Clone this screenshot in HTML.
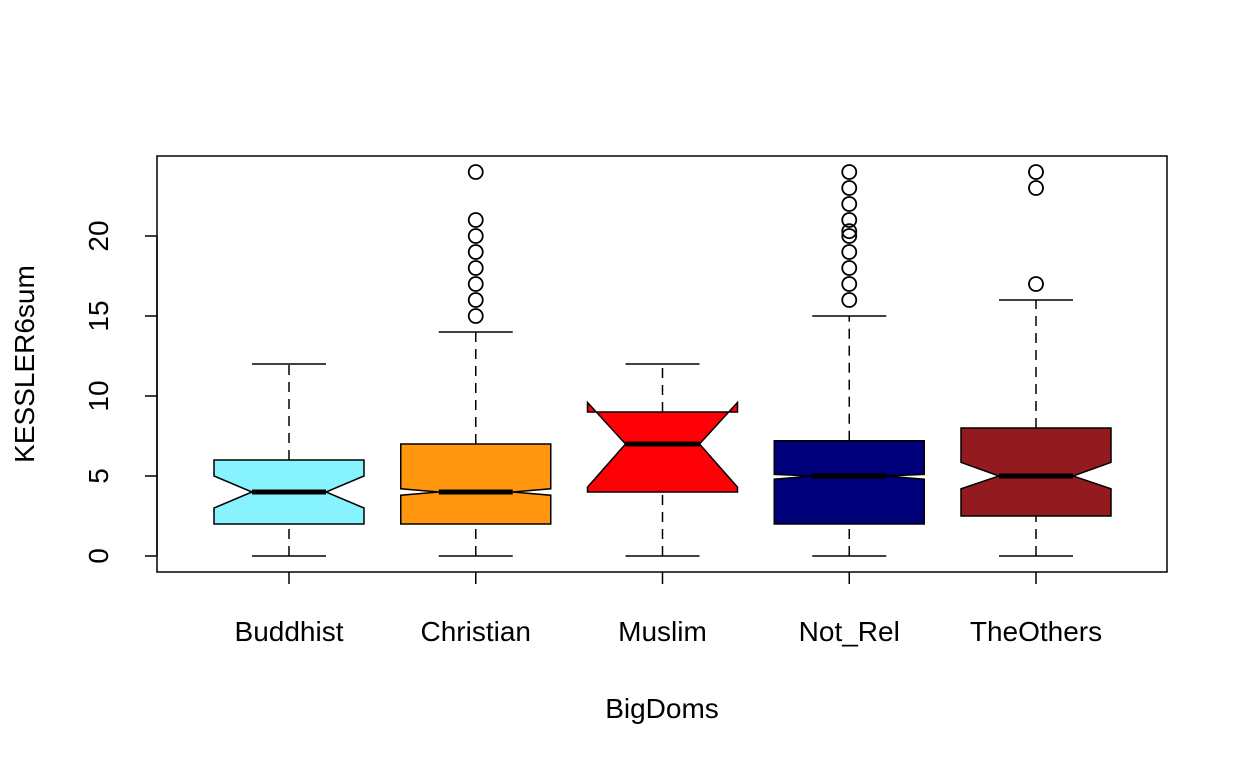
<!DOCTYPE html>
<html><head><meta charset="utf-8"><style>
body{margin:0;background:#fff}
svg text{font-family:"Liberation Sans",Arial,sans-serif;font-size:28px;fill:#000}
</style></head><body>
<svg id="chart" width="1248" height="768" xmlns="http://www.w3.org/2000/svg">
<rect x="157" y="156" width="1010" height="416" fill="none" stroke="#000" stroke-width="1.5"/>
<g id="marks"></g>
<text x="662" y="718" text-anchor="middle">BigDoms</text>
<text transform="translate(34,364) rotate(-90)" text-anchor="middle">KESSLER6sum</text>
</svg>
<script>
const categories=["Buddhist","Christian","Muslim","Not_Rel","TheOthers"];
const colors=["#87F3FF","#FF960D","#FF0006","#00007A","#931B20"];
const whiskLo=[0,0,0,0,0];
const q1=[2,2,4,2,2.5];
const medians=[4,4,7,5,5];
const q3=[6,7,9,7.2,8];
const whiskHi=[12,14,12,15,16];
const notchLo=[3,3.8,4.3,4.8,4.2];
const notchHi=[5,4.2,9.6,5.1,5.85];
const outliers=[[],[15,16,17,18,19,20,21,24],[],[16,17,18,19,20,20.3,21,22,23,24],[17,23,24]];
const yTicks=[0,5,10,15,20];
const ns="http://www.w3.org/2000/svg";
const g=document.getElementById('marks'), svg=document.getElementById('chart');
const y=v=>556-v*16;
const x=i=>289+i*186.75;
function mk(t,a,p){const e=document.createElementNS(ns,t);for(const k in a)e.setAttribute(k,a[k]);(p||g).appendChild(e);return e;}
yTicks.forEach(v=>{
 const l=mk('line',{x1:157,x2:145,y1:y(v),y2:y(v),stroke:'#000','stroke-width':1.5});
 
 
 const t=mk('text',{transform:`translate(108,${y(v)}) rotate(-90)`,'text-anchor':'middle'},svg);
 t.textContent=v;
 
 
});
mk('line',{x1:157,x2:157,y1:y(0),y2:y(20),stroke:'#000','stroke-width':1.5});
categories.forEach((c,i)=>{
 const cx=x(i),hw=75,nw=37;
 const tk=mk('line',{x1:cx,x2:cx,y1:572,y2:584,stroke:'#000','stroke-width':1.5});
 
 
 const t=mk('text',{x:cx,y:641,'text-anchor':'middle'},svg);t.textContent=c;
 
 
 [[whiskLo[i],q1[i]],[q3[i],whiskHi[i]]].forEach(([a,b])=>mk('line',{x1:cx,x2:cx,y1:y(a),y2:y(b),stroke:'#000','stroke-width':1.5,'stroke-dasharray':'10,7'}));
 [whiskLo[i],whiskHi[i]].forEach(v=>mk('line',{x1:cx-37,x2:cx+37,y1:y(v),y2:y(v),stroke:'#000','stroke-width':1.5}));
 const L=cx-hw,R=cx+hw;
 const pts=[[L,y(q1[i])],[L,y(notchLo[i])],[cx-nw,y(medians[i])],[L,y(notchHi[i])],[L,y(q3[i])],[R,y(q3[i])],[R,y(notchHi[i])],[cx+nw,y(medians[i])],[R,y(notchLo[i])],[R,y(q1[i])]];
 const b=mk('polygon',{points:pts.map(p=>p.join(',')).join(' '),fill:colors[i],stroke:'#000','stroke-width':1.5});
 
 
 const m=mk('line',{x1:cx-nw,x2:cx+nw,y1:y(medians[i]),y2:y(medians[i]),stroke:'#000','stroke-width':5});
 
 
 outliers[i].forEach(v=>{
  const o=mk('circle',{cx:cx,cy:y(v),r:7,fill:'none',stroke:'#000','stroke-width':1.8});
  
  
 });
});
</script>
</body></html>
